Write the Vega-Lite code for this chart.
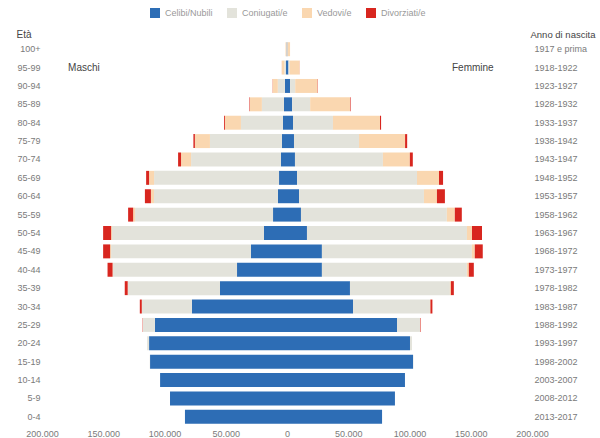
{
  "$schema": "https://vega.github.io/schema/vega-lite/v6.json",
  "width": 490,
  "height": 386,
  "autosize": "none",
  "padding": {"left": 42, "top": 40, "right": 68, "bottom": 12},
  "config": {
    "view": {"stroke": null},
    "font": "Liberation Sans",
    "axis": {"labelColor": "#7a7a7a", "labelFontSize": 9, "titleColor": "#444444", "titleFontSize": 10, "titleFontWeight": "normal", "grid": false, "domain": false, "ticks": false}
  },
  "datasets": {
    "stati": [
      {"t": "Celibi/Nubili", "o": 1},
      {"t": "Coniugati/e", "o": 2},
      {"t": "Vedovi/e", "o": 3},
      {"t": "Divorziati/e", "o": 4}
    ],
    "pop": [
      {"e": "100+", "sesso": "Maschi", "Celibi/Nubili": -300, "Coniugati/e": -200, "Vedovi/e": -700, "Divorziati/e": 0},
      {"e": "100+", "sesso": "Femmine", "Celibi/Nubili": 300, "Coniugati/e": 100, "Vedovi/e": 2100, "Divorziati/e": 0},
      {"e": "95-99", "sesso": "Maschi", "Celibi/Nubili": -800, "Coniugati/e": -1300, "Vedovi/e": -2100, "Divorziati/e": -50},
      {"e": "95-99", "sesso": "Femmine", "Celibi/Nubili": 1200, "Coniugati/e": 800, "Vedovi/e": 8300, "Divorziati/e": 60},
      {"e": "90-94", "sesso": "Maschi", "Celibi/Nubili": -1700, "Coniugati/e": -5800, "Vedovi/e": -4200, "Divorziati/e": -150},
      {"e": "90-94", "sesso": "Femmine", "Celibi/Nubili": 2500, "Coniugati/e": 4200, "Vedovi/e": 18300, "Divorziati/e": 250},
      {"e": "85-89", "sesso": "Maschi", "Celibi/Nubili": -2500, "Coniugati/e": -18000, "Vedovi/e": -9800, "Divorziati/e": -400},
      {"e": "85-89", "sesso": "Femmine", "Celibi/Nubili": 4200, "Coniugati/e": 14700, "Vedovi/e": 32600, "Divorziati/e": 450},
      {"e": "80-84", "sesso": "Maschi", "Celibi/Nubili": -3300, "Coniugati/e": -34300, "Vedovi/e": -13100, "Divorziati/e": -700},
      {"e": "80-84", "sesso": "Femmine", "Celibi/Nubili": 4900, "Coniugati/e": 32600, "Vedovi/e": 38400, "Divorziati/e": 900},
      {"e": "75-79", "sesso": "Maschi", "Celibi/Nubili": -4100, "Coniugati/e": -58800, "Vedovi/e": -12300, "Divorziati/e": -1200},
      {"e": "75-79", "sesso": "Femmine", "Celibi/Nubili": 5700, "Coniugati/e": 53100, "Vedovi/e": 37600, "Divorziati/e": 1700},
      {"e": "70-74", "sesso": "Maschi", "Celibi/Nubili": -4900, "Coniugati/e": -73400, "Vedovi/e": -8200, "Divorziati/e": -2400},
      {"e": "70-74", "sesso": "Femmine", "Celibi/Nubili": 6500, "Coniugati/e": 71800, "Vedovi/e": 22000, "Divorziati/e": 2400},
      {"e": "65-69", "sesso": "Maschi", "Celibi/Nubili": -6500, "Coniugati/e": -102000, "Vedovi/e": -4100, "Divorziati/e": -2400},
      {"e": "65-69", "sesso": "Femmine", "Celibi/Nubili": 8200, "Coniugati/e": 97900, "Vedovi/e": 18000, "Divorziati/e": 3300},
      {"e": "60-64", "sesso": "Maschi", "Celibi/Nubili": -7400, "Coniugati/e": -101200, "Vedovi/e": -2500, "Divorziati/e": -4900},
      {"e": "60-64", "sesso": "Femmine", "Celibi/Nubili": 9800, "Coniugati/e": 102000, "Vedovi/e": 10600, "Divorziati/e": 6500},
      {"e": "55-59", "sesso": "Maschi", "Celibi/Nubili": -11400, "Coniugati/e": -112600, "Vedovi/e": -1600, "Divorziati/e": -4100},
      {"e": "55-59", "sesso": "Femmine", "Celibi/Nubili": 11400, "Coniugati/e": 119100, "Vedovi/e": 6500, "Divorziati/e": 5700},
      {"e": "50-54", "sesso": "Maschi", "Celibi/Nubili": -18800, "Coniugati/e": -124000, "Vedovi/e": -800, "Divorziati/e": -6500},
      {"e": "50-54", "sesso": "Femmine", "Celibi/Nubili": 16300, "Coniugati/e": 130600, "Vedovi/e": 4100, "Divorziati/e": 8200},
      {"e": "45-49", "sesso": "Maschi", "Celibi/Nubili": -29400, "Coniugati/e": -114200, "Vedovi/e": -800, "Divorziati/e": -5700},
      {"e": "45-49", "sesso": "Femmine", "Celibi/Nubili": 28500, "Coniugati/e": 122400, "Vedovi/e": 2400, "Divorziati/e": 6500},
      {"e": "40-44", "sesso": "Maschi", "Celibi/Nubili": -40800, "Coniugati/e": -101200, "Vedovi/e": -400, "Divorziati/e": -4100},
      {"e": "40-44", "sesso": "Femmine", "Celibi/Nubili": 28500, "Coniugati/e": 118300, "Vedovi/e": 1600, "Divorziati/e": 4100},
      {"e": "35-39", "sesso": "Maschi", "Celibi/Nubili": -54700, "Coniugati/e": -75100, "Vedovi/e": -250, "Divorziati/e": -2400},
      {"e": "35-39", "sesso": "Femmine", "Celibi/Nubili": 51400, "Coniugati/e": 81600, "Vedovi/e": 800, "Divorziati/e": 2400},
      {"e": "30-34", "sesso": "Maschi", "Celibi/Nubili": -77600, "Coniugati/e": -40800, "Vedovi/e": -150, "Divorziati/e": -1600},
      {"e": "30-34", "sesso": "Femmine", "Celibi/Nubili": 53900, "Coniugati/e": 62800, "Vedovi/e": 400, "Divorziati/e": 1600},
      {"e": "25-29", "sesso": "Maschi", "Celibi/Nubili": -107800, "Coniugati/e": -9800, "Vedovi/e": -80, "Divorziati/e": -250},
      {"e": "25-29", "sesso": "Femmine", "Celibi/Nubili": 89800, "Coniugati/e": 18800, "Vedovi/e": 150, "Divorziati/e": 400},
      {"e": "20-24", "sesso": "Maschi", "Celibi/Nubili": -112600, "Coniugati/e": -1600, "Vedovi/e": 0, "Divorziati/e": 0},
      {"e": "20-24", "sesso": "Femmine", "Celibi/Nubili": 100400, "Coniugati/e": 1600, "Vedovi/e": 0, "Divorziati/e": 0},
      {"e": "15-19", "sesso": "Maschi", "Celibi/Nubili": -111800, "Coniugati/e": -200, "Vedovi/e": 0, "Divorziati/e": 0},
      {"e": "15-19", "sesso": "Femmine", "Celibi/Nubili": 102900, "Coniugati/e": 200, "Vedovi/e": 0, "Divorziati/e": 0},
      {"e": "10-14", "sesso": "Maschi", "Celibi/Nubili": -103600, "Coniugati/e": 0, "Vedovi/e": 0, "Divorziati/e": 0},
      {"e": "10-14", "sesso": "Femmine", "Celibi/Nubili": 96300, "Coniugati/e": 0, "Vedovi/e": 0, "Divorziati/e": 0},
      {"e": "5-9", "sesso": "Maschi", "Celibi/Nubili": -95500, "Coniugati/e": 0, "Vedovi/e": 0, "Divorziati/e": 0},
      {"e": "5-9", "sesso": "Femmine", "Celibi/Nubili": 88100, "Coniugati/e": 0, "Vedovi/e": 0, "Divorziati/e": 0},
      {"e": "0-4", "sesso": "Maschi", "Celibi/Nubili": -83300, "Coniugati/e": 0, "Vedovi/e": 0, "Divorziati/e": 0},
      {"e": "0-4", "sesso": "Femmine", "Celibi/Nubili": 77600, "Coniugati/e": 0, "Vedovi/e": 0, "Divorziati/e": 0}
    ],
    "etichette": [
      {"lab": "Maschi", "v": -178700, "e": "95-99"},
      {"lab": "Femmine", "v": 134700, "e": "95-99"}
    ],
    "anni": [
      {"a": "1917 e prima"}, {"a": "1918-1922"}, {"a": "1923-1927"}, {"a": "1928-1932"}, {"a": "1933-1937"},
      {"a": "1938-1942"}, {"a": "1943-1947"}, {"a": "1948-1952"}, {"a": "1953-1957"}, {"a": "1958-1962"},
      {"a": "1963-1967"}, {"a": "1968-1972"}, {"a": "1973-1977"}, {"a": "1978-1982"}, {"a": "1983-1987"},
      {"a": "1988-1992"}, {"a": "1993-1997"}, {"a": "1998-2002"}, {"a": "2003-2007"}, {"a": "2008-2012"},
      {"a": "2013-2017"}
    ]
  },
  "layer": [
    {
      "layer": [
        {
          "data": {"name": "pop"},
          "transform": [
            {"fold": ["Celibi/Nubili", "Coniugati/e", "Vedovi/e", "Divorziati/e"], "as": ["t", "v"]},
            {"lookup": "t", "from": {"data": {"name": "stati"}, "key": "t", "fields": ["o"]}}
          ],
          "mark": {"type": "bar"},
          "encoding": {
            "y": {
              "field": "e", "type": "ordinal",
              "sort": ["100+", "95-99", "90-94", "85-89", "80-84", "75-79", "70-74", "65-69", "60-64", "55-59", "50-54", "45-49", "40-44", "35-39", "30-34", "25-29", "20-24", "15-19", "10-14", "5-9", "0-4"],
              "scale": {"paddingInner": 0.24, "paddingOuter": 0.12},
              "axis": {"title": "Età", "titleAngle": 0, "titleAlign": "left", "titleBaseline": "middle", "titleX": -26, "titleY": -6, "labelPadding": 2}
            },
            "x": {
              "field": "v", "type": "quantitative", "stack": "zero",
              "scale": {"domain": [-200000, 200000], "nice": false},
              "axis": {"title": null, "values": [-200000, -150000, -100000, -50000, 0, 50000, 100000, 150000, 200000], "labelFlush": false, "labelOverlap": false, "labelExpr": "replace(format(abs(datum.value), ','), regexp(',', 'g'), '.')", "labelPadding": 3}
            },
            "color": {
              "field": "t", "type": "nominal",
              "scale": {"domain": ["Celibi/Nubili", "Coniugati/e", "Vedovi/e", "Divorziati/e"], "range": ["#2d6db5", "#e3e3db", "#fad7b0", "#d8261f"]},
              "legend": {"title": null, "orient": "none", "legendX": 108, "legendY": -32, "direction": "horizontal", "symbolType": "square", "symbolSize": 100, "symbolStrokeWidth": 0, "labelFontSize": 9, "labelColor": "#999999", "columnPadding": 14, "labelOffset": 5}
            },
            "order": {"field": "o", "type": "quantitative", "sort": "ascending"}
          }
        },
        {
          "data": {"name": "etichette"},
          "mark": {"type": "text", "align": "left", "baseline": "middle", "fontSize": 10, "color": "#444444"},
          "encoding": {
            "x": {"field": "v", "type": "quantitative"},
            "y": {"field": "e", "type": "ordinal", "sort": ["100+", "95-99", "90-94", "85-89", "80-84", "75-79", "70-74", "65-69", "60-64", "55-59", "50-54", "45-49", "40-44", "35-39", "30-34", "25-29", "20-24", "15-19", "10-14", "5-9", "0-4"]},
            "text": {"field": "lab"}
          }
        }
      ]
    },
    {
      "data": {"name": "anni"},
      "mark": {"type": "tick", "opacity": 0},
      "encoding": {
        "y": {
          "field": "a", "type": "ordinal", "sort": "ascending",
          "scale": {"paddingInner": 0.24, "paddingOuter": 0.12},
          "axis": {"orient": "right", "title": "Anno di nascita", "titleFontSize": 9.5, "titleAngle": 0, "titleAlign": "left", "titleBaseline": "middle", "titleX": -2, "titleY": -6, "labelPadding": 2}
        }
      }
    }
  ],
  "resolve": {"scale": {"y": "independent"}}
}
